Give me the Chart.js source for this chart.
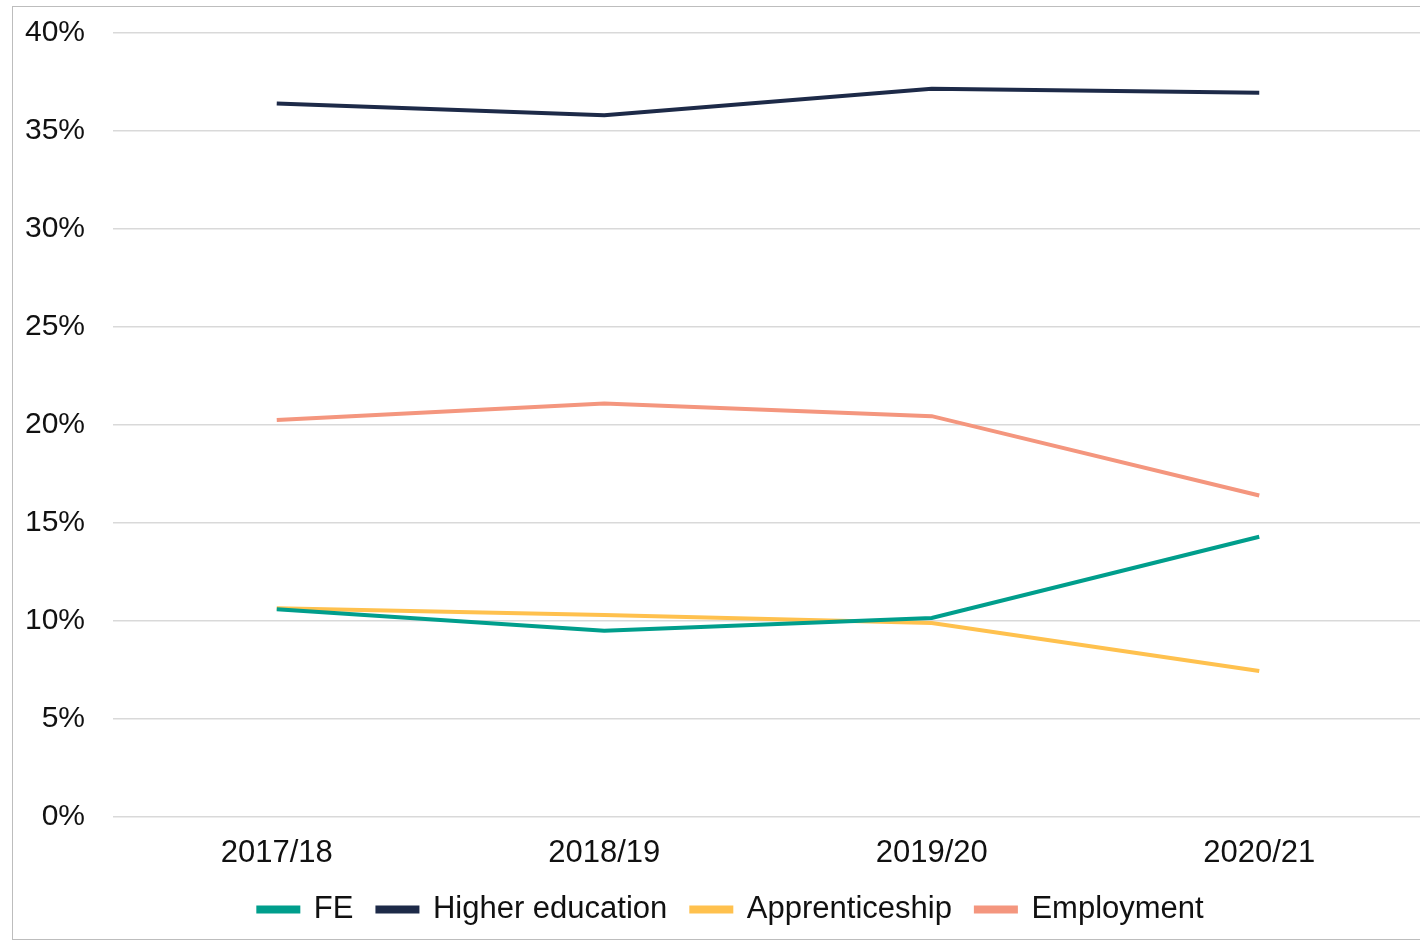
<!DOCTYPE html>
<html>
<head>
<meta charset="utf-8">
<script src="https://cdn.jsdelivr.net/npm/chart.js@4"></script>
<style>
  html, body { margin: 0; padding: 0; background: #fff; overflow: hidden; }
  #frame {
    position: absolute; left: 12px; top: 6px;
    width: 1436px; height: 932px;
    border: 1px solid #bdbdbd;
  }
</style>
</head>
<body>
<div id="frame"><canvas id="destinationsChart" width="1436" height="932"></canvas></div>
<script>
// data
const years = ['2017/18', '2018/19', '2019/20', '2020/21'];
const fe = [10.6, 9.5, 10.15, 14.3];
const higherEducation = [36.4, 35.8, 37.15, 36.95];
const apprenticeship = [10.65, 10.3, 9.9, 7.45];
const employment = [20.25, 21.1, 20.45, 16.4];
const yTicks = [0, 5, 10, 15, 20, 25, 30, 35, 40];

const FONT = 'Liberation Sans, Arial, sans-serif';

function lineSet(label, data, color) {
    return {
        label: label,
        data: data,
        borderColor: color,
        backgroundColor: color,
        borderWidth: 4,
        pointRadius: 0,
        tension: 0,
        fill: false,
        yAxisID: 'y'
    };
}

// keep the legend block a fixed height so the gap above it matches
const legendHeight = {
    id: 'legendHeight',
    beforeInit(chart) {
        const legend = chart.legend;
        const fit = legend.fit;
        legend.fit = function () {
            fit.call(this);
            this.height = 69;
        };
    }
};

const ctx = document.getElementById('destinationsChart').getContext('2d');
const chart = new Chart(ctx, {
    type: 'line',
    data: {
        labels: years,
        datasets: [
            lineSet('FE', fe, '#009e8c'),
            lineSet('Higher education', higherEducation, '#1d2a48'),
            lineSet('Apprenticeship', apprenticeship, '#ffc14e'),
            lineSet('Employment', employment, '#f4967e')
        ]
    },
    plugins: [legendHeight],
    options: {
        responsive: false,
        animation: false,
        devicePixelRatio: 1,
        layout: {
            padding: { top: 26, right: 0, bottom: 0, left: 0 }
        },
        plugins: {
            legend: {
                position: 'bottom',
                labels: {
                    boxWidth: 40,
                    boxHeight: 4,
                    padding: 24,
                    color: '#111',
                    font: { size: 31, family: FONT }
                }
            },
            tooltip: { enabled: false }
        },
        scales: {
            x: {
                offset: true,
                grid: { display: false, drawTicks: false },
                border: { display: false },
                afterFit: s => { s.height = 53; },
                ticks: {
                    padding: 18,
                    color: '#111',
                    font: { size: 31, family: FONT }
                }
            },
            y: {
                min: 0,
                max: 40,
                afterBuildTicks: s => { s.ticks = yTicks.map(v => ({ value: v })); },
                afterFit: s => { s.width = 100; s.paddingTop = 0; s.paddingBottom = 0; },
                grid: { color: '#d9d9d9', lineWidth: 1.5, drawTicks: false },
                border: { display: false },
                ticks: {
                    padding: 28,
                    color: '#111',
                    font: { size: 30, family: FONT },
                    callback: v => v + '%'
                }
            },
            // empty strip on the right so the plot stops short of the frame
            yRight: {
                position: 'right',
                grid: { display: false },
                border: { display: false },
                ticks: { display: false },
                afterFit: s => { s.width = 26; s.paddingTop = 0; s.paddingBottom = 0; }
            }
        }
    }
});
</script>
</body>
</html>
